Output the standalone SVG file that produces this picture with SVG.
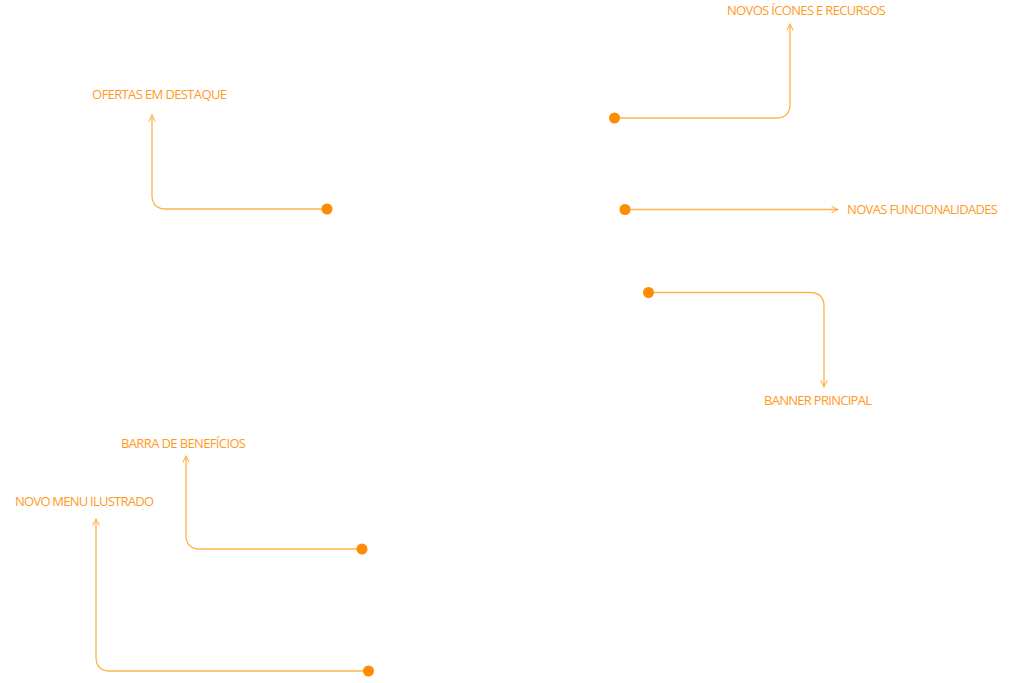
<svg xmlns="http://www.w3.org/2000/svg" width="1024" height="683" viewBox="0 0 1024 683">
<defs>
<style>
.lbl{font-family:"Open Sans","Liberation Sans",sans-serif;font-size:13px;fill:#FF9A1F}
.ln{fill:none;stroke:#FFB24A;stroke-width:1.3}
.dot{fill:#FF8C00}
</style>
<marker id="ah" viewBox="0 0 10 10" refX="9" refY="5" markerWidth="8" markerHeight="8" markerUnits="userSpaceOnUse" orient="auto">
<path d="M1 1 L9 5 L1 9" fill="none" stroke="#FFB24A" stroke-width="1.3"/>
</marker>
</defs>
<rect width="1024" height="683" fill="#ffffff"/>
<g id="connectors">
<path class="ln" d="M614 118 H776 Q790 118 790 104 V24" marker-end="url(#ah)"/>
<path class="ln" d="M327 209 H166 Q152 209 152 195 V115" marker-end="url(#ah)"/>
<path class="ln" d="M625 209.5 H838" marker-end="url(#ah)"/>
<path class="ln" d="M648 292.5 H810 Q824 292.5 824 306.5 V387" marker-end="url(#ah)"/>
<path class="ln" d="M362 549 H200 Q186 549 186 535 V456" marker-end="url(#ah)"/>
<path class="ln" d="M368 671 H110 Q96 671 96 657 V519" marker-end="url(#ah)"/>
</g>
<g id="n-icones"><circle class="dot" cx="614.5" cy="118" r="5.5"/><text class="lbl" x="727" y="15" textLength="159">NOVOS ÍCONES E RECURSOS</text></g>
<g id="n-ofertas"><circle class="dot" cx="327" cy="209" r="5.5"/><text class="lbl" x="92" y="98.5" textLength="135">OFERTAS EM DESTAQUE</text></g>
<g id="n-funcionalidades"><circle class="dot" cx="625" cy="209.5" r="5.5"/><text class="lbl" x="847" y="213.5" textLength="151">NOVAS FUNCIONALIDADES</text></g>
<g id="n-banner"><circle class="dot" cx="648.5" cy="292.5" r="5.5"/><text class="lbl" x="764" y="404.5" textLength="108">BANNER PRINCIPAL</text></g>
<g id="n-barra"><circle class="dot" cx="362" cy="549" r="5.5"/><text class="lbl" x="121" y="447.5" textLength="125">BARRA DE BENEFÍCIOS</text></g>
<g id="n-menu"><circle class="dot" cx="368.5" cy="671" r="5.5"/><text class="lbl" x="15" y="505.5" textLength="139">NOVO MENU ILUSTRADO</text></g>
</svg>
